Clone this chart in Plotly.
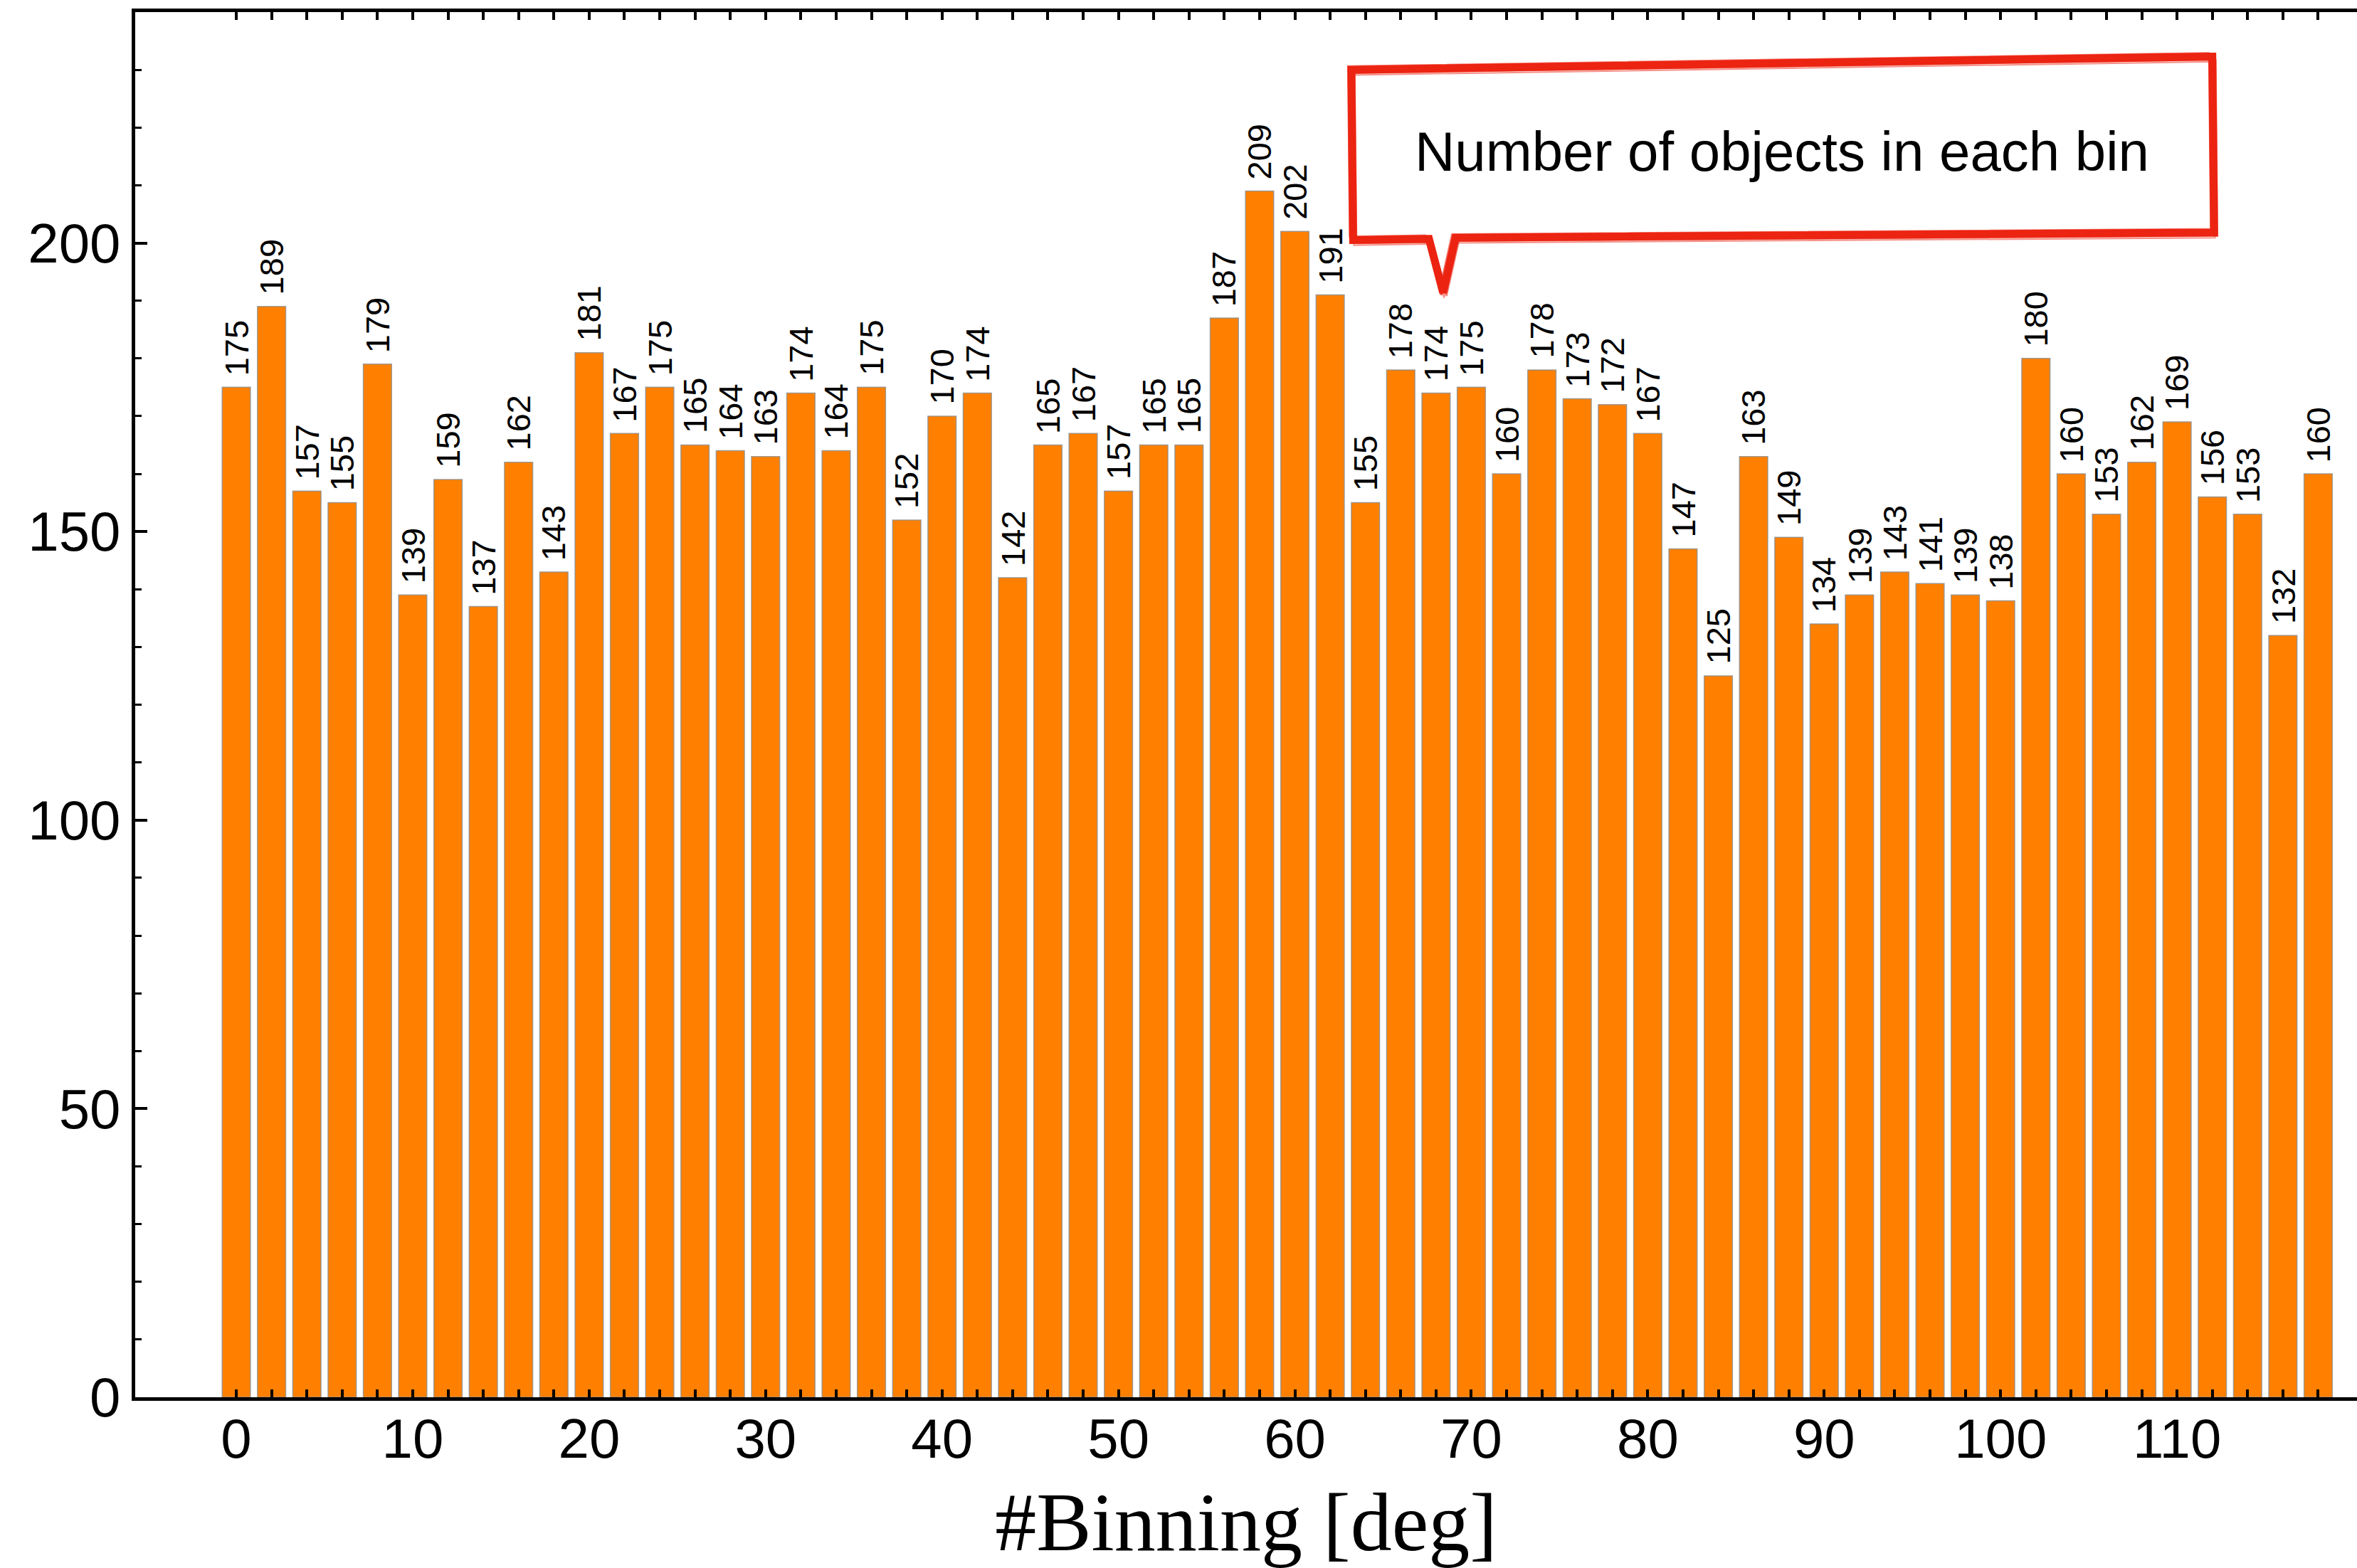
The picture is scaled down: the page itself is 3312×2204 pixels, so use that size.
import plotly.graph_objects as go

# ---- data ----
bin_deg = list(range(0, 120, 2))
counts = [175, 189, 157, 155, 179, 139, 159, 137, 162, 143,
          181, 167, 175, 165, 164, 163, 174, 164, 175, 152,
          170, 174, 142, 165, 167, 157, 165, 165, 187, 209,
          202, 191, 155, 178, 174, 175, 160, 178, 173, 172,
          167, 147, 125, 163, 149, 134, 139, 143, 141, 139,
          138, 180, 160, 153, 162, 169, 156, 153, 132, 160]
x_tick_vals = list(range(0, 120, 2))
x_tick_text = [str(v) if v % 10 == 0 else "" for v in x_tick_vals]
y_tick_vals = [0, 50, 100, 150, 200]
callout_text = "Number of objects in each bin"
x_title = "#Binning [deg]"

BAR_COLOR = "#FF8000"
RED = "#EC2412"
SANS = "Liberation Sans, Arial, Helvetica, sans-serif"

fig = go.Figure()
fig.add_trace(go.Bar(
    x=bin_deg, y=counts, width=1.6,
    marker=dict(color=BAR_COLOR, line=dict(color="rgba(140,140,140,0.8)", width=1.5)),
    showlegend=False,
))

annotations = []
for xv, yv in zip(bin_deg, counts):
    annotations.append(dict(
        x=xv, y=yv, xref="x", yref="y", text=str(yv), showarrow=False,
        textangle=-90, yanchor="bottom", xanchor="center", yshift=14,
        font=dict(family=SANS, size=47, color="black"),
    ))

# callout box (hand-drawn look with several slightly offset strokes)
def box_path(dx=0.0, dy=0.0):
    pts = [(63.2 + dx, 230.0 + dy), (112.0 + dx, 232.3 + dy), (112.1 + dx, 201.8 + dy),
           (69.1 + dx, 200.9 + dy), (68.4 + dx, 191.4 + dy), (67.6 + dx, 200.7 + dy),
           (63.3 + dx, 200.5 + dy)]
    return "M " + " L ".join(f"{a},{b}" for a, b in pts) + " Z"

shapes = [dict(type="path", xref="x", yref="y", path=box_path(), fillcolor="white",
               line=dict(color=RED, width=11), layer="above")]
for dx, dy, w, op in [(0.12, 0.45, 3, 0.8), (-0.1, -0.4, 3, 0.8), (0.2, -0.6, 2, 0.6),
                      (-0.2, 0.65, 2, 0.6), (0.05, -0.9, 2, 0.5)]:
    shapes.append(dict(type="path", xref="x", yref="y", path=box_path(dx, dy),
                       line=dict(color=RED, width=w), opacity=op, layer="above"))

annotations.append(dict(
    x=87.6, y=215.8, xref="x", yref="y", text=callout_text, showarrow=False,
    font=dict(family=SANS, size=78, color="black"), xanchor="center", yanchor="middle",
))

fig.update_layout(
    width=3312, height=2204,
    margin=dict(l=190, r=0, t=17, b=240),
    paper_bgcolor="white", plot_bgcolor="white",
    bargap=0.2,
    annotations=annotations,
    shapes=shapes,
    xaxis=dict(
        range=[-5.73, 120.2],
        tickmode="array", tickvals=x_tick_vals, ticktext=x_tick_text,
        ticks="inside", ticklen=11, tickwidth=4, tickcolor="black",
        showline=True, linewidth=5, linecolor="black", mirror="ticks",
        showgrid=False, zeroline=False, ticklabelstandoff=-14,
        tickfont=dict(family=SANS, size=78, color="black"),
        title=dict(text=x_title, font=dict(family="Liberation Serif, Times New Roman, serif", size=116, color="black"), standoff=40),
    ),
    yaxis=dict(
        range=[0, 240],
        tickmode="array", tickvals=y_tick_vals,
        ticks="inside", ticklen=17, tickwidth=4, tickcolor="black",
        minor=dict(tickmode="linear", tick0=0, dtick=10, ticks="inside", ticklen=9, tickwidth=3, tickcolor="black"),
        showline=True, linewidth=5, linecolor="black", mirror=False,
        showgrid=False, zeroline=False,
        tickfont=dict(family=SANS, size=78, color="black"),
    ),
)

fig.write_html("out.html")
